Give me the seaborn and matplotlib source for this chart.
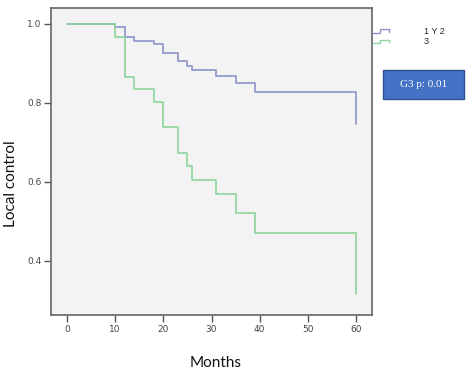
import matplotlib
matplotlib.use("Agg")
import matplotlib.pyplot as plt
import seaborn as sns
import pandas as pd
from matplotlib.legend_handler import HandlerBase
from matplotlib.lines import Line2D
from matplotlib.patches import Rectangle

# ---- data ----
months_12 = [0, 10, 12, 14, 18, 20, 23, 25, 26, 31, 35, 39, 60]
surv_12 = [1.0, 0.992, 0.966, 0.956, 0.948, 0.927, 0.905, 0.894, 0.883, 0.867, 0.849, 0.827, 0.747]
months_3 = [0, 10, 12, 14, 18, 20, 23, 25, 26, 31, 35, 39, 60]
surv_3 = [1.0, 0.966, 0.866, 0.835, 0.803, 0.739, 0.673, 0.640, 0.605, 0.568, 0.521, 0.471, 0.315]
group_labels = ["1 Y 2", "3"]
x_ticks = [0, 10, 20, 30, 40, 50, 60]
y_ticks = [0.4, 0.6, 0.8, 1.0]
annotation = "G3 p: 0.01"

colors = {"1 Y 2": "#8c93c9", "3": "#8ed49c"}

df = pd.concat([
    pd.DataFrame({"Months": months_12, "Local control": surv_12, "group": group_labels[0]}),
    pd.DataFrame({"Months": months_3, "Local control": surv_3, "group": group_labels[1]}),
], ignore_index=True)

sns.set_style("white")
fig = plt.figure(figsize=(4.73, 3.80), dpi=100)
ax = fig.add_axes([51/473, 1-315/380, (372-51)/473, (315-8)/380])
ax.set_facecolor("#f3f3f3")

sns.lineplot(data=df, x="Months", y="Local control", hue="group", palette=colors,
             estimator=None, drawstyle="steps-post", linewidth=1.2, ax=ax, legend=False,
             sort=False)

ax.set_xlim(-3.3, 63.3)
ax.set_ylim(0.262, 1.04)
ax.set_xticks(x_ticks)
ax.set_xticklabels([str(t) for t in x_ticks])
ax.set_yticks(y_ticks)
ax.set_yticklabels([f"{t:.1f}" for t in y_ticks])
ax.tick_params(axis="both", direction="out", length=5, width=1, color="#555555",
               labelsize=6.5, labelcolor="#444444", pad=2, bottom=True, left=True)
for s in ax.spines.values():
    s.set_color("#666666")
    s.set_linewidth(1.2)

ax.set_xlabel("Months", fontsize=11, family="Lato", color="#111111")
ax.set_ylabel("Local control", fontsize=11, family="Lato", color="#111111")
ax.xaxis.set_label_coords((215.7 - 51) / 321, (315 - 356) / 307)
ax.yaxis.set_label_coords((18 - 51) / 321, (315 - 184) / 307)


class StepHandler(HandlerBase):
    def create_artists(self, legend, orig_handle, xdescent, ydescent, width, height, fontsize, trans):
        x0, y0 = -xdescent, -ydescent
        xs = [x0, x0 + 0.45*width, x0 + 0.45*width, x0 + width, x0 + width]
        ys = [y0 + 0.15*height, y0 + 0.15*height, y0 + 0.75*height, y0 + 0.75*height, y0 + 0.35*height]
        ln = Line2D(xs, ys, color=orig_handle.get_color(), linewidth=1.0, transform=trans)
        return [ln]


handles = [Line2D([], [], color=colors[g]) for g in group_labels]
fig.legend(handles, group_labels, handler_map={Line2D: StepHandler()},
           loc="upper left", bbox_to_anchor=(373/473, 1-27/380), bbox_transform=fig.transFigure,
           frameon=False, handlelength=1.8, handletextpad=3.8,
           labelspacing=0.15, borderpad=0, borderaxespad=0,
           prop={"family": "Liberation Sans", "size": 6.5})

fig.patches.append(Rectangle((383/473, 1-99/380), (464-383)/473, (99-70)/380,
                             transform=fig.transFigure, facecolor="#4472c4",
                             edgecolor="#2f528f", linewidth=1.0))
fig.text(423.5/473, 1-84.5/380, annotation, color="white", fontsize=8,
         family="Liberation Serif", ha="center", va="center")

fig.savefig("out.png", dpi=100, facecolor="white")
